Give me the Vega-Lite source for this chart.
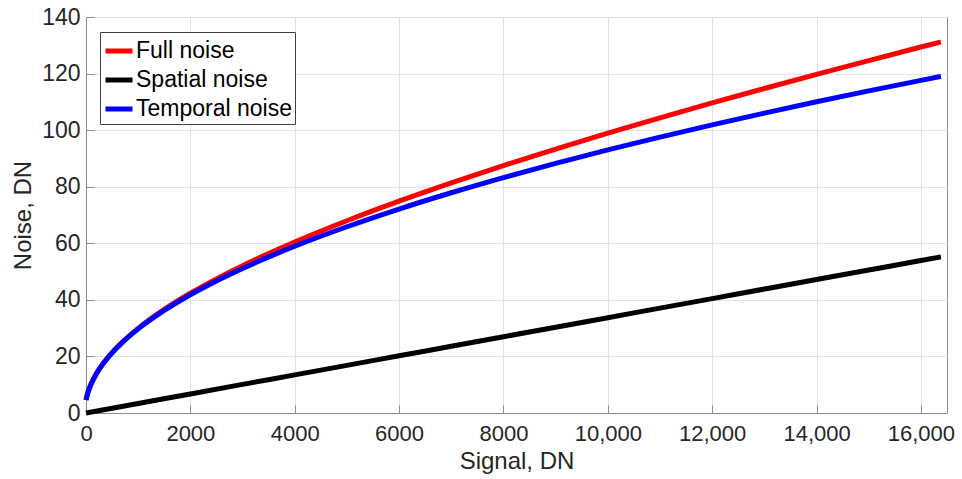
{
  "$schema": "https://vega.github.io/schema/vega-lite/v6.json",
  "width": 861,
  "height": 396,
  "autosize": "none",
  "padding": {"left": 86, "top": 17, "right": 15, "bottom": 66},
  "background": "white",
  "config": {
    "font": "Liberation Sans",
    "view": {"stroke": "#8c8c8c", "strokeWidth": 1}
  },
  "data": {
    "values": [
      {"s": 0, "noise": 4.58, "series": "Full noise"},
      {"s": 25, "noise": 6.53, "series": "Full noise"},
      {"s": 50, "noise": 8.01, "series": "Full noise"},
      {"s": 100, "noise": 10.36, "series": "Full noise"},
      {"s": 200, "noise": 13.93, "series": "Full noise"},
      {"s": 300, "noise": 16.76, "series": "Full noise"},
      {"s": 500, "noise": 21.34, "series": "Full noise"},
      {"s": 750, "noise": 25.97, "series": "Full noise"},
      {"s": 1000, "noise": 29.92, "series": "Full noise"},
      {"s": 1500, "noise": 36.62, "series": "Full noise"},
      {"s": 2000, "noise": 42.34, "series": "Full noise"},
      {"s": 2500, "noise": 47.43, "series": "Full noise"},
      {"s": 3000, "noise": 52.08, "series": "Full noise"},
      {"s": 4000, "noise": 60.46, "series": "Full noise"},
      {"s": 5000, "noise": 67.97, "series": "Full noise"},
      {"s": 6000, "noise": 74.89, "series": "Full noise"},
      {"s": 7000, "noise": 81.36, "series": "Full noise"},
      {"s": 8000, "noise": 87.48, "series": "Full noise"},
      {"s": 9000, "noise": 93.32, "series": "Full noise"},
      {"s": 10000, "noise": 98.93, "series": "Full noise"},
      {"s": 11000, "noise": 104.35, "series": "Full noise"},
      {"s": 12000, "noise": 109.61, "series": "Full noise"},
      {"s": 13000, "noise": 114.72, "series": "Full noise"},
      {"s": 14000, "noise": 119.71, "series": "Full noise"},
      {"s": 15000, "noise": 124.59, "series": "Full noise"},
      {"s": 16000, "noise": 129.38, "series": "Full noise"},
      {"s": 16383, "noise": 131.18, "series": "Full noise"},
      {"s": 0, "noise": 0.0, "series": "Spatial noise"},
      {"s": 1000, "noise": 3.37, "series": "Spatial noise"},
      {"s": 2000, "noise": 6.74, "series": "Spatial noise"},
      {"s": 3000, "noise": 10.11, "series": "Spatial noise"},
      {"s": 4000, "noise": 13.48, "series": "Spatial noise"},
      {"s": 5000, "noise": 16.85, "series": "Spatial noise"},
      {"s": 6000, "noise": 20.22, "series": "Spatial noise"},
      {"s": 7000, "noise": 23.59, "series": "Spatial noise"},
      {"s": 8000, "noise": 26.96, "series": "Spatial noise"},
      {"s": 9000, "noise": 30.33, "series": "Spatial noise"},
      {"s": 10000, "noise": 33.7, "series": "Spatial noise"},
      {"s": 11000, "noise": 37.07, "series": "Spatial noise"},
      {"s": 12000, "noise": 40.44, "series": "Spatial noise"},
      {"s": 13000, "noise": 43.81, "series": "Spatial noise"},
      {"s": 14000, "noise": 47.18, "series": "Spatial noise"},
      {"s": 15000, "noise": 50.55, "series": "Spatial noise"},
      {"s": 16000, "noise": 53.92, "series": "Spatial noise"},
      {"s": 16383, "noise": 55.21, "series": "Spatial noise"},
      {"s": 0, "noise": 4.58, "series": "Temporal noise"},
      {"s": 25, "noise": 6.53, "series": "Temporal noise"},
      {"s": 50, "noise": 8.01, "series": "Temporal noise"},
      {"s": 100, "noise": 10.36, "series": "Temporal noise"},
      {"s": 200, "noise": 13.92, "series": "Temporal noise"},
      {"s": 300, "noise": 16.73, "series": "Temporal noise"},
      {"s": 500, "noise": 21.27, "series": "Temporal noise"},
      {"s": 750, "noise": 25.85, "series": "Temporal noise"},
      {"s": 1000, "noise": 29.73, "series": "Temporal noise"},
      {"s": 1500, "noise": 36.27, "series": "Temporal noise"},
      {"s": 2000, "noise": 41.8, "series": "Temporal noise"},
      {"s": 2500, "noise": 46.68, "series": "Temporal noise"},
      {"s": 3000, "noise": 51.09, "series": "Temporal noise"},
      {"s": 4000, "noise": 58.94, "series": "Temporal noise"},
      {"s": 5000, "noise": 65.85, "series": "Temporal noise"},
      {"s": 6000, "noise": 72.11, "series": "Temporal noise"},
      {"s": 7000, "noise": 77.86, "series": "Temporal noise"},
      {"s": 8000, "noise": 83.22, "series": "Temporal noise"},
      {"s": 9000, "noise": 88.25, "series": "Temporal noise"},
      {"s": 10000, "noise": 93.02, "series": "Temporal noise"},
      {"s": 11000, "noise": 97.55, "series": "Temporal noise"},
      {"s": 12000, "noise": 101.87, "series": "Temporal noise"},
      {"s": 13000, "noise": 106.03, "series": "Temporal noise"},
      {"s": 14000, "noise": 110.02, "series": "Temporal noise"},
      {"s": 15000, "noise": 113.88, "series": "Temporal noise"},
      {"s": 16000, "noise": 117.6, "series": "Temporal noise"},
      {"s": 16383, "noise": 119.0, "series": "Temporal noise"}
    ]
  },
  "mark": {"type": "line", "strokeWidth": 5, "interpolate": "monotone", "strokeCap": "butt"},
  "encoding": {
    "x": {
      "field": "s",
      "type": "quantitative",
      "scale": {"domain": [0, 16500], "nice": false, "zero": false},
      "axis": {
        "title": "Signal, DN",
        "values": [0, 2000, 4000, 6000, 8000, 10000, 12000, 14000, 16000],
        "labelExpr": "datum.value >= 10000 ? format(datum.value, ',') : format(datum.value, 'd')",
        "labelFontSize": 22,
        "labelColor": "#262626",
        "labelPadding": 18,
        "labelFlush": false,
        "titleFontSize": 24,
        "titleFontWeight": "normal",
        "titleColor": "#262626",
        "titlePadding": 5,
        "domainColor": "#8c8c8c",
        "tickColor": "#8c8c8c",
        "tickSize": -8,
        "gridColor": "#e3e3e3",
        "gridWidth": 1
      }
    },
    "y": {
      "field": "noise",
      "type": "quantitative",
      "scale": {"domain": [0, 140], "nice": false},
      "axis": {
        "title": "Noise, DN",
        "values": [0, 20, 40, 60, 80, 100, 120, 140],
        "labelFontSize": 23,
        "labelColor": "#262626",
        "labelPadding": 14,
        "labelFlush": false,
        "titleFontSize": 24,
        "titleFontWeight": "normal",
        "titleColor": "#262626",
        "titlePadding": 6,
        "domainColor": "#8c8c8c",
        "tickColor": "#8c8c8c",
        "tickSize": -8,
        "gridColor": "#e3e3e3",
        "gridWidth": 1
      }
    },
    "color": {
      "field": "series",
      "type": "nominal",
      "scale": {
        "domain": ["Full noise", "Spatial noise", "Temporal noise"],
        "range": ["#ff0000", "#000000", "#0000ff"]
      },
      "legend": {
        "title": null,
        "orient": "none",
        "legendX": 14,
        "legendY": 15,
        "symbolType": "stroke",
        "symbolSize": 729,
        "symbolStrokeWidth": 5,
        "labelFontSize": 23,
        "labelColor": "#000000",
        "labelOffset": 1,
        "rowPadding": 1,
        "padding": 3,
        "strokeColor": "#404040",
        "fillColor": "white"
      }
    }
  }
}
